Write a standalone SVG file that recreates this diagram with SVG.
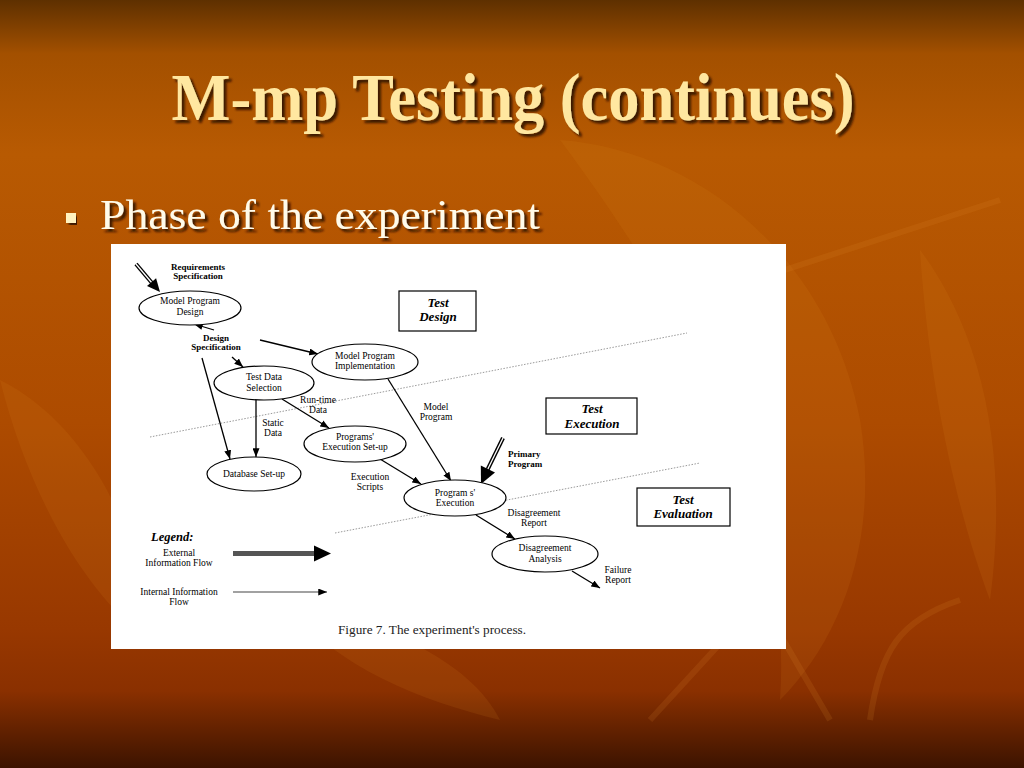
<svg xmlns="http://www.w3.org/2000/svg" width="1024" height="768" viewBox="0 0 1024 768">
<defs>
<linearGradient id="bg" x1="0" y1="0" x2="0" y2="1">
<stop offset="0" stop-color="#5e3000"/>
<stop offset="0.07" stop-color="#a35000"/>
<stop offset="0.2" stop-color="#b85a02"/>
<stop offset="0.55" stop-color="#ad4b00"/>
<stop offset="0.82" stop-color="#983800"/>
<stop offset="0.9" stop-color="#8a3000"/>
<stop offset="1" stop-color="#3c1300"/>
</linearGradient>
<marker id="ah" viewBox="0 0 10 8" refX="10" refY="4" markerWidth="9" markerHeight="7" markerUnits="userSpaceOnUse" orient="auto">
<path d="M0,0 L10,4 L0,8 Z" fill="#000"/>
</marker>
<filter id="sh" x="-5%" y="-20%" width="110%" height="140%">
<feDropShadow dx="3" dy="3" stdDeviation="1" flood-color="#2a1000" flood-opacity="0.85"/>
</filter>
</defs>
<style>
.lbl{font-family:"Liberation Serif","Times New Roman",serif;font-size:9.5px;fill:#000;text-anchor:middle}
.blbl{font-family:"Liberation Serif","Times New Roman",serif;font-size:9px;font-weight:bold;fill:#000;text-anchor:middle}
.box{font-family:"Liberation Serif","Times New Roman",serif;font-size:13px;font-weight:bold;font-style:italic;fill:#000;text-anchor:middle}
.node{fill:#fff;stroke:#000;stroke-width:1.2}
.flow{stroke:#000;stroke-width:1.3;fill:none;marker-end:url(#ah)}
.phase{fill:#fff;stroke:#000;stroke-width:1.2}
.dot{stroke:#9a9a9a;stroke-width:1;stroke-dasharray:1.5 1.5;fill:none}
</style>
<rect x="0" y="0" width="1024" height="768" fill="url(#bg)"/>
<g opacity="0.12" fill="#e08a20">
<path d="M560,140 C700,150 830,260 860,420 C880,540 840,640 780,700 C790,560 740,380 560,140 Z"/>
<path d="M920,250 C980,330 1010,450 990,600 C960,520 930,400 920,250 Z"/>
<path d="M0,380 C80,420 140,520 150,640 C90,600 30,500 0,380 Z"/>
<path d="M280,600 C380,620 470,660 500,720 C420,700 340,670 280,600 Z"/>
</g>
<g opacity="0.14" stroke="#e09030" stroke-width="6" fill="none">
<path d="M600,330 L1000,200"/>
<path d="M650,720 L760,600 L830,720"/>
<path d="M870,720 C880,650 900,620 960,600"/>
</g>
<g id="title">
<text x="513" y="120" font-family="Liberation Serif,'Times New Roman',serif" font-size="68" font-weight="bold" fill="#ffe7a0" text-anchor="middle" textLength="683" lengthAdjust="spacingAndGlyphs" filter="url(#sh)">M-mp Testing (continues)</text>
</g>
<g id="bullet">
<rect x="66" y="213" width="10" height="10" fill="#fff3c0" filter="url(#sh)"/>
<text x="100" y="229" font-family="Liberation Serif,'Times New Roman',serif" font-size="42" fill="#fffbea" textLength="440" lengthAdjust="spacingAndGlyphs" filter="url(#sh)">Phase of the experiment</text>
</g>
<rect id="figure" x="111" y="244" width="675" height="405" fill="#fff"/>
<g id="phase-lines">
<line class="dot" x1="150" y1="437" x2="687" y2="333"/>
<line class="dot" x1="335" y1="533" x2="700" y2="463"/>
</g>
<g id="connectors">
<line class="flow" x1="260" y1="340" x2="318" y2="354"/>
<line class="flow" x1="232" y1="357" x2="243" y2="367"/>
<line class="flow" x1="202" y1="358" x2="230" y2="459"/>
<line class="flow" x1="256" y1="400" x2="256" y2="457"/>
<line class="flow" x1="282" y1="399" x2="329" y2="428"/>
<line class="flow" x1="388" y1="379" x2="451" y2="481"/>
<line class="flow" x1="380" y1="459" x2="421" y2="484"/>
<line class="flow" x1="476" y1="515" x2="515" y2="539"/>
<line class="flow" x1="572" y1="571" x2="600" y2="588"/>
<line class="flow" x1="214" y1="330" x2="194" y2="324"/>
<g id="ext-req">
<line x1="136" y1="264" x2="152" y2="283" stroke="#000" stroke-width="4"/>
<line x1="136" y1="264" x2="152" y2="283" stroke="#fff" stroke-width="1.3"/>
<polygon points="160,292 147,286 156.1,278.2" fill="#000"/>
</g>
<g id="ext-primary">
<line x1="503" y1="438" x2="487.6" y2="469.5" stroke="#000" stroke-width="4"/>
<line x1="503" y1="438" x2="487.6" y2="469.5" stroke="#fff" stroke-width="1.3"/>
<polygon points="481,484 495,472.6 480.8,465.6" fill="#000"/>
</g>
</g>
<g id="req-label">
<text class="blbl" x="198" y="270">Requirements</text>
<text class="blbl" x="198" y="279">Specification</text>
</g>
<g id="model-program-design">
<ellipse class="node" cx="190" cy="308" rx="51" ry="17"/>
<text class="lbl" x="190" y="304">Model Program</text>
<text class="lbl" x="190" y="315">Design</text>
</g>
<g id="design-spec-label">
<text class="blbl" x="216" y="341">Design</text>
<text class="blbl" x="216" y="350">Specification</text>
</g>
<g id="model-program-implementation">
<ellipse class="node" cx="365" cy="362" rx="53" ry="18"/>
<text class="lbl" x="365" y="359">Model Program</text>
<text class="lbl" x="365" y="369">Implementation</text>
</g>
<g id="test-data-selection">
<ellipse class="node" cx="264" cy="383" rx="50" ry="17"/>
<text class="lbl" x="264" y="380">Test Data</text>
<text class="lbl" x="264" y="391">Selection</text>
</g>
<g id="programs-execution-setup">
<ellipse class="node" cx="355" cy="444" rx="51" ry="18"/>
<text class="lbl" x="355" y="440">Programs'</text>
<text class="lbl" x="355" y="450">Execution Set-up</text>
</g>
<g id="database-setup">
<ellipse class="node" cx="254" cy="474" rx="47" ry="17"/>
<text class="lbl" x="254" y="477">Database Set-up</text>
</g>
<g id="programs-execution">
<ellipse class="node" cx="455" cy="498" rx="51" ry="18"/>
<text class="lbl" x="455" y="496">Program s'</text>
<text class="lbl" x="455" y="506">Execution</text>
</g>
<g id="disagreement-analysis">
<ellipse class="node" cx="545" cy="554" rx="53" ry="18"/>
<text class="lbl" x="545" y="551">Disagreement</text>
<text class="lbl" x="545" y="562">Analysis</text>
</g>
<g id="flow-labels">
<text class="lbl" x="318" y="403">Run-time</text>
<text class="lbl" x="318" y="413">Data</text>
<text class="lbl" x="273" y="426">Static</text>
<text class="lbl" x="273" y="436">Data</text>
<text class="lbl" x="436" y="410">Model</text>
<text class="lbl" x="436" y="420">Program</text>
<text class="lbl" x="370" y="480">Execution</text>
<text class="lbl" x="370" y="490">Scripts</text>
<text class="blbl" x="508" y="457" style="text-anchor:start">Primary</text>
<text class="blbl" x="508" y="467" style="text-anchor:start">Program</text>
<text class="lbl" x="534" y="516">Disagreement</text>
<text class="lbl" x="534" y="526">Report</text>
<text class="lbl" x="618" y="573">Failure</text>
<text class="lbl" x="618" y="583">Report</text>
</g>
<g id="test-design">
<rect class="phase" x="399" y="291" width="77" height="40"/>
<text class="box" x="438" y="307">Test</text>
<text class="box" x="438" y="321">Design</text>
</g>
<g id="test-execution">
<rect class="phase" x="546" y="398" width="91" height="36"/>
<text class="box" x="592" y="413">Test</text>
<text class="box" x="592" y="428">Execution</text>
</g>
<g id="test-evaluation">
<rect class="phase" x="637" y="488" width="93" height="38"/>
<text class="box" x="683" y="504">Test</text>
<text class="box" x="683" y="518">Evaluation</text>
</g>
<g id="legend">
<text x="151" y="541" font-family="Liberation Serif,'Times New Roman',serif" font-size="12.5" font-weight="bold" font-style="italic">Legend:</text>
<text class="lbl" x="179" y="556">External</text>
<text class="lbl" x="179" y="566">Information Flow</text>
<line x1="233" y1="553.5" x2="315" y2="553.5" stroke="#555" stroke-width="5"/>
<polygon points="314,545.5 331,553.5 314,561.5" fill="#000"/>
<text class="lbl" x="179" y="595">Internal Information</text>
<text class="lbl" x="179" y="605">Flow</text>
<line x1="233" y1="592" x2="327" y2="592" stroke="#444" stroke-width="1.2" marker-end="url(#ah)"/>
</g>
<g id="caption">
<text x="338" y="634" font-family="Liberation Serif,'Times New Roman',serif" font-size="12" fill="#222" textLength="188" lengthAdjust="spacingAndGlyphs">Figure 7. The experiment's process.</text>
</g>
</svg>
